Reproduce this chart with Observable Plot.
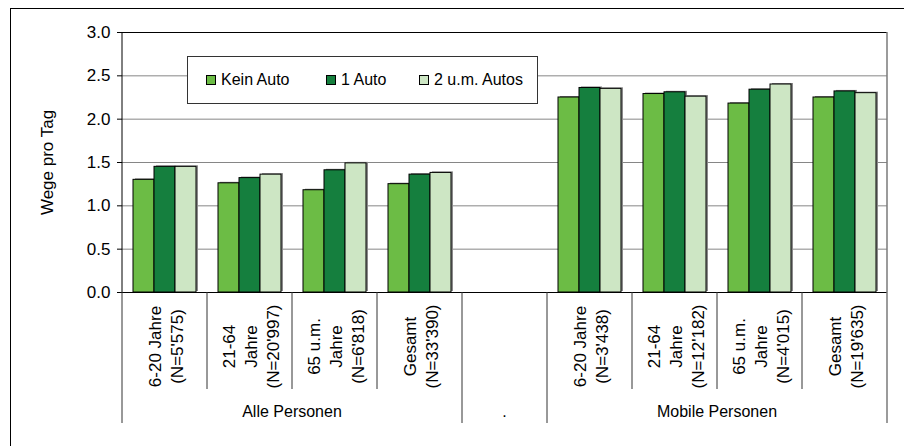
<!DOCTYPE html>
<html><head><meta charset="utf-8">
<script src="https://cdn.jsdelivr.net/npm/d3@7"></script>
<script src="https://cdn.jsdelivr.net/npm/@observablehq/plot@0.6"></script>
<style>
html,body{margin:0;padding:0;background:#fff;overflow:hidden;}
body{width:904px;height:446px;position:relative;font-family:"Liberation Sans",Arial,sans-serif;color:#000;}
#frame{position:absolute;left:10px;top:8px;width:1000px;height:1000px;border-left:1px solid #000;border-top:1px solid #000;}
#chart{position:absolute;left:0;top:0;}
#legend{position:absolute;left:187px;top:56px;width:351px;height:48px;border:1px solid #333;background:#fff;box-sizing:border-box;font-size:16px;}
#legend .sw{position:absolute;top:18px;width:10px;height:10px;border:1px solid #000;box-sizing:border-box;}
#legend .lb{position:absolute;top:14px;line-height:18px;white-space:nowrap;}
</style>
</head><body>
<div id="frame"></div>
<div id="chart"></div>
<div id="legend"></div>
<script>
// Categories (gap category is empty)
const categories = ["6-20 Jahre\n(N=5'575)", "21-64\nJahre\n(N=20'997)", "65 u.m.\nJahre\n(N=6'818)", "Gesamt\n(N=33'390)", "", "6-20 Jahre\n(N=3'438)", "21-64\nJahre\n(N=12'182)", "65 u.m.\nJahre\n(N=4'015)", "Gesamt\n(N=19'635)"];
const outerLabels = ["Alle Personen", ".", "Mobile Personen"];
const outerStarts = [0, 4, 5];
const outerEnds = [4, 5, 9];
const series = ["Kein Auto", "1 Auto", "2 u.m. Autos"];
const colors = ["#6cbc45", "#157f3e", "#cde6c4"];
const keinAuto  = [1.30, 1.26, 1.18, 1.25, null, 2.25, 2.29, 2.18, 2.25];
const einAuto   = [1.45, 1.32, 1.41, 1.36, null, 2.36, 2.31, 2.34, 2.32];
const zweiAutos = [1.45, 1.36, 1.49, 1.38, null, 2.35, 2.26, 2.40, 2.30];
const yTicks = [0, 0.5, 1.0, 1.5, 2.0, 2.5, 3.0];

const values = [keinAuto, einAuto, zweiAutos];
const rows = [];
categories.forEach((c, i) => {
  series.forEach((s, j) => {
    if (values[j][i] != null) rows.push({cat: i, series: s, value: values[j][i]});
  });
});
const catRows = categories.map((c, i) => ({cat: i, label: c}));

const plot = Plot.plot({
  width: 904, height: 446,
  marginLeft: 120, marginRight: 15, marginTop: 32, marginBottom: 154,
  style: {fontFamily: "'Liberation Sans', Arial, sans-serif", fontSize: "16px", color: "#000", background: "transparent", overflow: "visible"},
  fx: {domain: d3.range(categories.length), padding: 0, axis: null, label: null},
  x: {domain: series, paddingInner: 0, paddingOuter: 0.5, axis: null},
  y: {domain: [0, 3]},
  color: {domain: series, range: colors},
  marks: [
    Plot.ruleY(yTicks.slice(1, -1), {stroke: "#868686", strokeWidth: 1}),
    Plot.ruleY([3], {stroke: "#000", strokeWidth: 1}),
    Plot.barY(rows, {fx: "cat", x: "series", y: "value", fill: "#8a8a8a", dx: 2, dy: -1}),
    Plot.barY(rows, {fx: "cat", x: "series", y: "value", fill: "series", stroke: "#000", strokeWidth: 1}),
    Plot.ruleY([0], {stroke: "#000", strokeWidth: 1}),
    Plot.axisY({ticks: yTicks, tickFormat: ".1f", tickSize: 5, tickPadding: 7, fontSize: 17,
      label: "Wege pro Tag", labelAnchor: "center", labelArrow: "none", labelOffset: 82}),
    Plot.text(catRows, {fx: "cat", text: "label", frameAnchor: "bottom", dy: 54, rotate: -90,
      textAnchor: "middle", lineAnchor: "middle", lineHeight: 1.3, fontSize: 17, fill: "#000"})
  ]
});
document.getElementById("chart").appendChild(plot);

// Category divider lines and outer group labels, placed from the plot's scales
const fx = plot.scale("fx");
const y = plot.scale("y");
const svg = d3.select(plot);
const n = categories.length;
const edges = d3.range(n + 1).map(i => i < n ? fx.apply(i) : fx.apply(n - 1) + fx.bandwidth);
const longEdges = new Set([...outerStarts, ...outerEnds]);
const y0 = y.apply(0), y3 = y.apply(3);
const g = svg.append("g");
g.append("line").attr("x1", edges[0]).attr("x2", edges[0]).attr("y1", y3).attr("y2", y0).attr("stroke", "#000");
g.append("line").attr("x1", edges[n]).attr("x2", edges[n]).attr("y1", y3).attr("y2", y0).attr("stroke", "#7a7a7a").attr("stroke-width", 1.5);
edges.forEach((x, i) => {
  g.append("line").attr("x1", x).attr("x2", x).attr("y1", y0)
    .attr("y2", y0 + (longEdges.has(i) ? 131 : 97))
    .attr("stroke", i === n ? "#7a7a7a" : "#333").attr("stroke-width", i === n ? 1.5 : 1);
});
outerLabels.forEach((lab, k) => {
  g.append("text").attr("x", (edges[outerStarts[k]] + edges[outerEnds[k]]) / 2).attr("y", y0 + 121)
    .attr("text-anchor", "middle").attr("dominant-baseline", "middle")
    .attr("font-size", 16).attr("fill", "#000").text(lab);
});

// Legend
const legend = document.getElementById("legend");
const swX = [18, 138, 231];
series.forEach((s, i) => {
  const sw = document.createElement("div");
  sw.className = "sw"; sw.style.left = swX[i] + "px"; sw.style.background = colors[i];
  legend.appendChild(sw);
  const lb = document.createElement("div");
  lb.className = "lb"; lb.style.left = (swX[i] + 15) + "px"; lb.textContent = s;
  legend.appendChild(lb);
});
</script>
</body></html>
